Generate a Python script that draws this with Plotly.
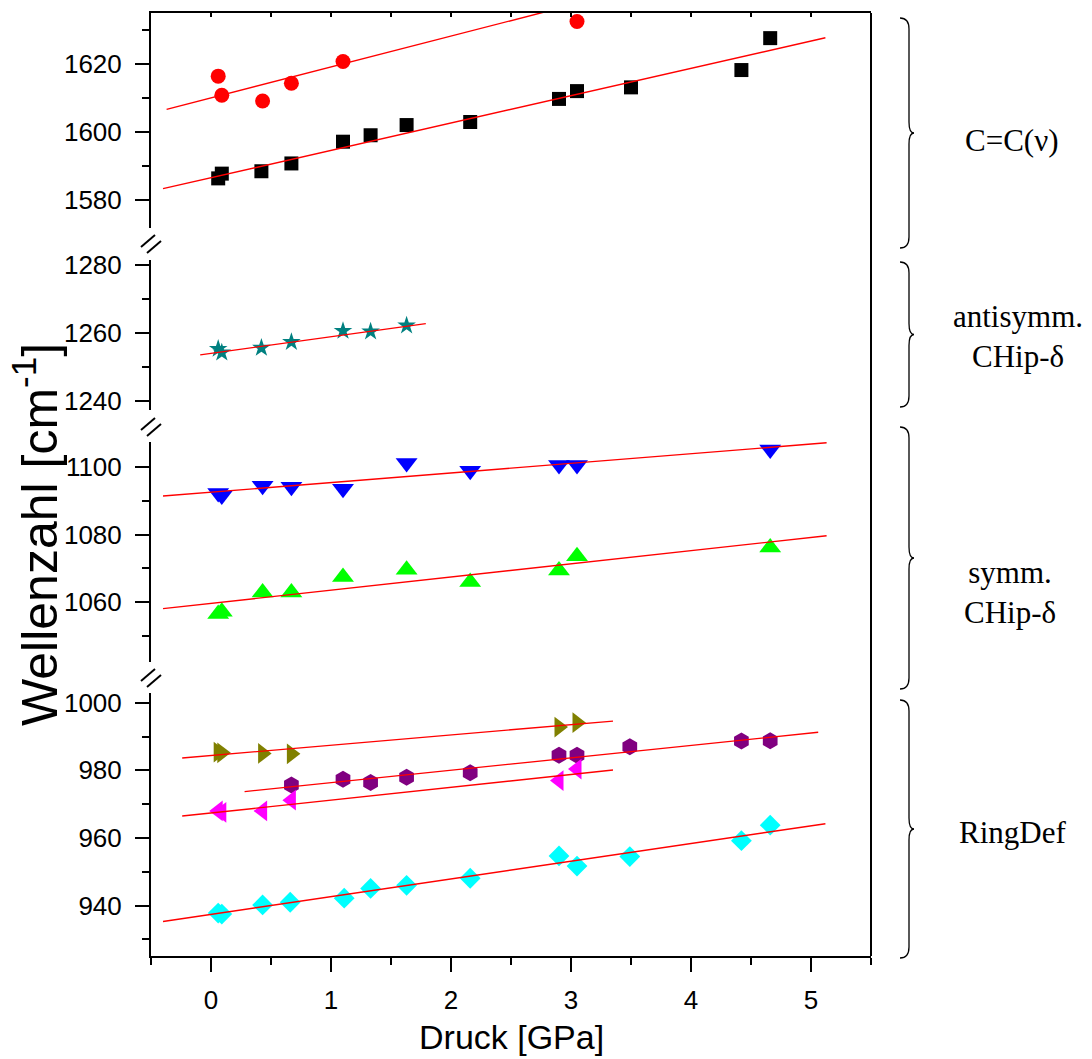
import plotly.graph_objects as go

# ---- band positions (cm^-1) versus pressure (GPa) ----
# C=C stretching
cc_sq_p = [0.06, 0.09, 0.42, 0.67, 1.10, 1.33, 1.63, 2.16, 2.90, 3.05, 3.50, 4.42, 4.66]
cc_sq_w = [1586.4, 1587.8, 1588.5, 1590.8, 1597.2, 1599.1, 1602.1, 1603.0, 1609.8, 1612.1, 1613.2, 1618.3, 1627.7]
cc_ci_p = [0.06, 0.09, 0.43, 0.67, 1.10, 3.05]
cc_ci_w = [1616.5, 1610.9, 1609.2, 1614.4, 1620.8, 1632.6]
# antisymmetric CH in-plane bend
anti_p = [0.06, 0.09, 0.42, 0.67, 1.10, 1.33, 1.63]
anti_w = [1255.3, 1254.2, 1255.6, 1257.3, 1260.6, 1260.4, 1262.2]
# symmetric CH in-plane bend
sym_dn_p = [0.06, 0.09, 0.43, 0.67, 1.10, 1.63, 2.16, 2.90, 3.05, 4.66]
sym_dn_w = [1092.3, 1091.5, 1094.4, 1094.1, 1093.5, 1101.1, 1098.8, 1100.5, 1100.5, 1105.1]
sym_up_p = [0.06, 0.09, 0.43, 0.67, 1.10, 1.63, 2.16, 2.90, 3.05, 4.66]
sym_up_w = [1056.6, 1057.2, 1062.9, 1062.9, 1067.5, 1069.6, 1066.0, 1069.4, 1073.6, 1076.2]
# ring deformation
ring_r_p = [0.06, 0.09, 0.43, 0.67, 2.90, 3.05]
ring_r_w = [985.4, 985.2, 985.0, 984.9, 992.8, 994.1]
ring_h_p = [0.67, 1.10, 1.33, 1.63, 2.16, 2.90, 3.05, 3.49, 4.42, 4.66]
ring_h_w = [975.7, 977.4, 976.4, 978.0, 979.3, 984.5, 984.5, 987.0, 988.7, 988.8]
ring_l_p = [0.06, 0.09, 0.43, 0.67, 2.90, 3.05]
ring_l_w = [968.0, 967.6, 968.0, 971.2, 977.0, 980.4]
ring_d_p = [0.06, 0.09, 0.43, 0.66, 1.11, 1.33, 1.63, 2.16, 2.90, 3.05, 3.49, 4.42, 4.66]
ring_d_w = [937.8, 937.5, 940.2, 941.0, 942.2, 945.1, 946.0, 948.1, 954.7, 951.7, 954.5, 959.2, 963.8]

# linear fits (same order as the series below): x-span, intercept, slope
fit_x0 = [-0.40, -0.37, -0.09, -0.40, -0.40, -0.24, 0.28, -0.24, -0.40]
fit_x1 = [5.12, 3.40, 1.79, 5.13, 5.13, 3.35, 5.06, 3.35, 5.12]
fit_icpt = [1586.6, 1610.1, 1254.0, 1092.5, 1059.7, 984.4, 972.7, 967.4, 937.4]
fit_slope = [8.05, 9.10, 4.89, 2.84, 3.89, 3.04, 3.67, 3.79, 5.24]

# axis ticks
x_ticks = [0, 1, 2, 3, 4, 5]
panel_ranges = [[1571.7, 1635.1], [1237.3, 1281.5], [1042.5, 1107.4], [925.1, 1002.8]]
panel_labels = ["C=C(ν)", "antisymm.<br>CHip-δ", "symm.<br>CHip-δ", "RingDef"]

series = [
    (cc_sq_p, cc_sq_w, "y", "square", "#000000", 14),
    (cc_ci_p, cc_ci_w, "y", "circle", "#FF0000", 15),
    (anti_p, anti_w, "y2", "star", "#008080", 14),
    (sym_dn_p, sym_dn_w, "y3", "triangle-down", "#0000FF", 19),
    (sym_up_p, sym_up_w, "y3", "triangle-up", "#00FF00", 19),
    (ring_r_p, ring_r_w, "y4", "triangle-right", "#808000", 18),
    (ring_h_p, ring_h_w, "y4", "hexagon", "#800080", 17),
    (ring_l_p, ring_l_w, "y4", "triangle-left", "#FF00FF", 18),
    (ring_d_p, ring_d_w, "y4", "diamond", "#00FFFF", 16),
]

# page geometry (pixels) of the plotting area
W, H = 1092, 1059
PL, PR, PT, PB = 151, 871, 13, 956


def xp(px):
    return (px - PL) / (PR - PL)


def yp(py):
    return (PB - py) / (PB - PT)


fig = go.Figure()

for p, w, ax, sym, col, sz in series:
    fig.add_trace(go.Scatter(
        x=p, y=w, xaxis="x", yaxis=ax, mode="markers",
        marker=dict(symbol=sym, color=col, size=sz, line=dict(width=0)),
        showlegend=False, cliponaxis=False,
    ))

for (p, w, ax, sym, col, sz), a, b, x0, x1 in zip(series, fit_icpt, fit_slope, fit_x0, fit_x1):
    fig.add_trace(go.Scatter(
        x=[x0, x1], y=[a + b * x0, a + b * x1], xaxis="x", yaxis=ax,
        mode="lines", line=dict(color="#FF0000", width=1.4),
        showlegend=False,
    ))

# helper trace so the top frame axis is drawn
fig.add_trace(go.Scatter(x=[None], y=[None], xaxis="x2", yaxis="y",
                         showlegend=False, hoverinfo="skip"))

SANS = "Liberation Sans, Arial, sans-serif"
tick_font = dict(family=SANS, size=26, color="black")

yaxis_common = dict(
    anchor="x", showline=True, linecolor="black", linewidth=2,
    ticks="outside", ticklen=14, tickwidth=2, tickcolor="black",
    dtick=20, tick0=0, showgrid=False, zeroline=False, automargin=False,
    minor=dict(dtick=10, tick0=0, ticks="outside", ticklen=7, tickwidth=2,
               tickcolor="black", showgrid=False),
    tickfont=tick_font, ticklabelstandoff=8,
)

domains = [[yp(228.3), 1.0], [yp(410), yp(260)], [yp(661.7), yp(441.7)], [0.0, yp(693.3)]]
names = ["yaxis", "yaxis2", "yaxis3", "yaxis4"]
layout_axes = {}
for nm, dom, rng in zip(names, domains, panel_ranges):
    layout_axes[nm] = dict(yaxis_common, domain=dom, range=rng)

fig.update_layout(
    width=W, height=H,
    margin=dict(l=PL, r=W - PR, t=PT, b=H - PB, autoexpand=False),
    paper_bgcolor="white", plot_bgcolor="white",
    xaxis=dict(
        anchor="y4", domain=[0, 1], range=[-0.5, 5.5], automargin=False,
        tickvals=x_ticks, ticks="outside", ticklen=14, tickwidth=2, tickcolor="black",
        showline=True, linecolor="black", linewidth=2,
        showgrid=False, zeroline=False,
        minor=dict(dtick=0.5, tick0=0, ticks="outside", ticklen=7, tickwidth=2,
                   tickcolor="black", showgrid=False),
        tickfont=tick_font, ticklabelstandoff=6,
    ),
    xaxis2=dict(
        overlaying="x", side="top", anchor="y", range=[-0.5, 5.5], automargin=False,
        showline=True, linecolor="black", linewidth=2,
        ticks="inside", ticklen=4, tickwidth=2, tickcolor="black",
        dtick=0.5, tick0=0, showticklabels=False, showgrid=False, zeroline=False,
    ),
    **layout_axes,
)

shapes = []
# right frame edge
shapes.append(dict(type="line", xref="paper", yref="paper", x0=1, x1=1, y0=0, y1=1,
                   line=dict(color="black", width=2)))
# axis-break marks on the left axis
for yb in [244, 427, 678]:
    for cx, cy in [(148, yb - 3), (154, yb + 3)]:
        shapes.append(dict(type="line", xref="paper", yref="paper",
                           x0=xp(cx - 7), y0=yp(cy + 6), x1=xp(cx + 7), y1=yp(cy - 6),
                           line=dict(color="black", width=2)))


def brace(top, bot, x0=900, x1=909, x2=914, d=11):
    mid = (top + bot) / 2
    pts = [
        f"M {xp(x0)},{yp(top)}",
        f"Q {xp(x1)},{yp(top)} {xp(x1)},{yp(top + d)}",
        f"L {xp(x1)},{yp(mid - d)}",
        f"Q {xp(x1)},{yp(mid)} {xp(x2)},{yp(mid)}",
        f"Q {xp(x1)},{yp(mid)} {xp(x1)},{yp(mid + d)}",
        f"L {xp(x1)},{yp(bot - d)}",
        f"Q {xp(x1)},{yp(bot)} {xp(x0)},{yp(bot)}",
    ]
    return " ".join(pts)


brace_spans = [(18, 248), (262, 407), (427, 689), (700, 958)]
for t, b in brace_spans:
    shapes.append(dict(type="path", xref="paper", yref="paper", path=brace(t, b),
                       line=dict(color="black", width=1.3)))

label_pos = [(1012, 140), (1018, 336), (1010, 592), (1012, 832)]
annotations = []
for txt, (lx, ly) in zip(panel_labels, label_pos):
    annotations.append(dict(
        text=txt, xref="paper", yref="paper", x=xp(lx), y=yp(ly),
        xanchor="center", yanchor="middle", showarrow=False, align="center",
        font=dict(family="Liberation Serif, Times New Roman, serif", size=31, color="black"),
    ))

# axis titles
annotations.append(dict(
    text="Druck [GPa]", xref="paper", yref="paper",
    x=xp(511), y=yp(1037), xanchor="center", yanchor="middle",
    showarrow=False, font=dict(family=SANS, size=34, color="black"),
))
annotations.append(dict(
    text="Wellenzahl [cm<sup>-1</sup>]", xref="paper", yref="paper",
    x=xp(36), y=yp(535), xanchor="center", yanchor="middle", textangle=-90,
    showarrow=False, font=dict(family=SANS, size=50, color="black"),
))

fig.update_layout(shapes=shapes, annotations=annotations)

fig.write_html("out.html")
